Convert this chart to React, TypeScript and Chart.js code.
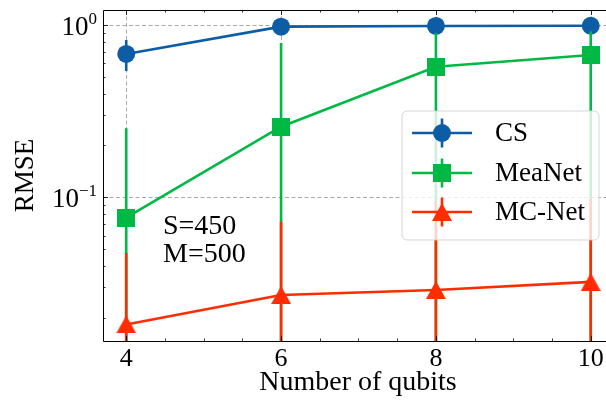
import React, { useEffect, useRef } from "react";
import { Chart, registerables } from "chart.js";

Chart.register(...registerables);

const qubits = [4, 6, 8, 10];
const seriesNames = ["CS", "MeaNet", "MC-Net"];
const csRmse = [0.679, 0.978, 0.987, 0.99];
const csUpper = [0.818, 1.0, 1.005, 1.01];
const csLower = [0.541, 0.955, 0.97, 0.975];
const meaRmse = [0.0762, 0.257, 0.573, 0.67];
const meaUpper = [0.252, 0.787, 0.9, 0.92];
const meaLower = [0.001, 0.001, 0.001, 0.001];
const mcRmse = [0.0183, 0.0271, 0.029, 0.0323];
const mcUpper = [0.0475, 0.0721, 0.095, 0.098];
const mcLower = [0.001, 0.001, 0.001, 0.001];
const colors = ["#0C5DA5", "#00B945", "#FF2C00"];
const xMajorTicks = [4, 6, 8, 10];
const yMajorTicks = [1, 0.1];
const yTickExponents = ["0", "\u22121"];
const annotationLines = ["S=450", "M=500"];
const xTitle = "Number of qubits";
const yTitle = "RMSE";

const FONT = '"Liberation Serif", "DejaVu Serif", serif';
const LW = 2.6;

function makeSquare(color: string, side: number) {
  const c = document.createElement("canvas");
  c.width = side;
  c.height = side;
  const g = c.getContext("2d")!;
  g.fillStyle = color;
  g.fillRect(0, 0, side, side);
  return c;
}
function makeTriangle(color: string, w: number, h: number) {
  const c = document.createElement("canvas");
  c.width = w;
  c.height = h;
  const g = c.getContext("2d")!;
  g.fillStyle = color;
  g.beginPath();
  g.moveTo(w / 2, 0);
  g.lineTo(w, h);
  g.lineTo(0, h);
  g.closePath();
  g.fill();
  return c;
}

export default function App() {
  const ref = useRef<HTMLCanvasElement | null>(null);
  useEffect(() => {
    const canvas = ref.current!;
    const square = makeSquare(colors[1], 18);
    const tri = makeTriangle(colors[2], 20, 18);
    const uppers = [csUpper, meaUpper, mcUpper];
    const lowers = [csLower, meaLower, mcLower];

    const plugin = {
      id: "custom",
      beforeDatasetsDraw(chart: any) {
        const { ctx, chartArea: a, scales } = chart;
        ctx.save();
        ctx.strokeStyle = "#aaaaaa";
        ctx.lineWidth = 1;
        ctx.setLineDash([4, 2.5]);
        for (const v of xMajorTicks) {
          const x = Math.round(scales.x.getPixelForValue(v)) + 0.5;
          ctx.beginPath();
          ctx.moveTo(x, a.top);
          ctx.lineTo(x, a.bottom);
          ctx.stroke();
        }
        for (const v of yMajorTicks) {
          const y = Math.round(scales.y.getPixelForValue(v)) + 0.5;
          ctx.beginPath();
          ctx.moveTo(a.left, y);
          ctx.lineTo(a.right, y);
          ctx.stroke();
        }
        ctx.restore();
      },
      beforeDatasetDraw(chart: any, args: any) {
        const { ctx, chartArea: a, scales } = chart;
        const i = args.index;
        ctx.save();
        ctx.beginPath();
        ctx.rect(a.left, a.top, a.right - a.left, a.bottom - a.top);
        ctx.clip();
        ctx.strokeStyle = colors[i];
        ctx.lineWidth = LW;
        for (let k = 0; k < qubits.length; k++) {
          const x = scales.x.getPixelForValue(qubits[k]);
          const y1 = scales.y.getPixelForValue(uppers[i][k]);
          const y2 = scales.y.getPixelForValue(lowers[i][k]);
          ctx.beginPath();
          ctx.moveTo(x, y1);
          ctx.lineTo(x, y2);
          ctx.stroke();
        }
        ctx.restore();
      },
      afterDatasetsDraw(chart: any) {
        const { ctx, chartArea: a, scales } = chart;
        ctx.save();
        // spines
        ctx.strokeStyle = "#000";
        ctx.lineWidth = 1;
        ctx.beginPath();
        ctx.moveTo(a.right + 0.5, a.top + 0.5);
        ctx.lineTo(a.left + 0.5, a.top + 0.5);
        ctx.lineTo(a.left + 0.5, a.bottom + 0.5);
        ctx.lineTo(a.right + 0.5, a.bottom + 0.5);
        ctx.lineTo(a.right + 0.5, a.top + 0.5);
        ctx.stroke();
        // x ticks
        ctx.lineWidth = 0.8;
        for (let v = 3.5; v <= 10.5; v += 0.5) {
          if (v < scales.x.min || v > scales.x.max) continue;
          const major = xMajorTicks.includes(v);
          const len = major ? 5 : 2.5;
          const x = Math.round(scales.x.getPixelForValue(v)) + 0.5;
          ctx.beginPath();
          ctx.moveTo(x, a.bottom);
          ctx.lineTo(x, a.bottom - len);
          ctx.moveTo(x, a.top);
          ctx.lineTo(x, a.top + len);
          ctx.stroke();
        }
        // y ticks
        for (const dec of [0.01, 0.1, 1]) {
          for (let m = 1; m <= 9; m++) {
            const v = m * dec;
            if (v < scales.y.min || v > scales.y.max) continue;
            const len = m === 1 ? 5 : 2.5;
            const y = Math.round(scales.y.getPixelForValue(v)) + 0.5;
            ctx.beginPath();
            ctx.moveTo(a.left, y);
            ctx.lineTo(a.left + len, y);
            ctx.stroke();
          }
        }
        // x tick labels
        ctx.fillStyle = "#000";
        ctx.font = `26px ${FONT}`;
        ctx.textAlign = "center";
        ctx.textBaseline = "alphabetic";
        for (const v of xMajorTicks) {
          ctx.fillText(String(v), scales.x.getPixelForValue(v), 366);
        }
        // y tick labels
        for (let k = 0; k < yMajorTicks.length; k++) {
          const y = scales.y.getPixelForValue(yMajorTicks[k]);
          ctx.font = `17px ${FONT}`;
          ctx.textAlign = "right";
          const ew = ctx.measureText(yTickExponents[k]).width;
          const right = a.left - 6;
          ctx.fillText(yTickExponents[k], right, y - 1);
          ctx.font = `27px ${FONT}`;
          ctx.fillText("10", right - ew, y + 10);
        }
        // axis titles
        ctx.font = `28px ${FONT}`;
        ctx.textAlign = "center";
        ctx.fillText(xTitle, 358, 390);
        ctx.save();
        ctx.translate(33, (a.top + a.bottom) / 2);
        ctx.rotate(-Math.PI / 2);
        ctx.font = `27px ${FONT}`;
        ctx.fillText(yTitle, 0, 0);
        ctx.restore();
        // annotation
        ctx.font = `28px ${FONT}`;
        ctx.textAlign = "left";
        const ax = scales.x.getPixelForValue(4.475);
        ctx.fillText(annotationLines[0], ax, a.top + 0.677 * (a.bottom - a.top));
        ctx.fillText(annotationLines[1], ax, a.top + 0.76 * (a.bottom - a.top));

        // legend
        const lx = 402, ly = 111, lw = 197, lh = 129, r = 5;
        ctx.beginPath();
        ctx.moveTo(lx + r, ly);
        ctx.arcTo(lx + lw, ly, lx + lw, ly + lh, r);
        ctx.arcTo(lx + lw, ly + lh, lx, ly + lh, r);
        ctx.arcTo(lx, ly + lh, lx, ly, r);
        ctx.arcTo(lx, ly, lx + lw, ly, r);
        ctx.closePath();
        ctx.fillStyle = "rgba(255,255,255,0.8)";
        ctx.fill();
        ctx.strokeStyle = "rgba(204,204,204,0.8)";
        ctx.lineWidth = 1;
        ctx.stroke();
        const rows = [133, 173, 212];
        for (let i = 0; i < 3; i++) {
          const y = rows[i];
          ctx.strokeStyle = colors[i];
          ctx.lineWidth = LW;
          ctx.beginPath();
          ctx.moveTo(412, y);
          ctx.lineTo(472, y);
          ctx.moveTo(442, y - 14.5);
          ctx.lineTo(442, y + 14.5);
          ctx.stroke();
          ctx.fillStyle = colors[i];
          if (i === 0) {
            ctx.beginPath();
            ctx.arc(442, y, 9, 0, Math.PI * 2);
            ctx.fill();
          } else if (i === 1) {
            ctx.drawImage(square, 442 - 9, y - 9);
          } else {
            ctx.drawImage(tri, 442 - 10, y - 9);
          }
          ctx.fillStyle = "#000";
          ctx.font = `27px ${FONT}`;
          ctx.textAlign = "left";
          ctx.textBaseline = "middle";
          ctx.fillText(seriesNames[i], 495, y + 1);
        }
        ctx.restore();
      },
    };

    const chart = new Chart(canvas, {
      type: "line",
      data: {
        datasets: [
          {
            label: seriesNames[0],
            data: qubits.map((x, k) => ({ x, y: csRmse[k] })),
            borderColor: colors[0],
            backgroundColor: colors[0],
            borderWidth: LW,
            pointStyle: "circle",
            pointRadius: 9,
            pointBorderWidth: 0,
            order: 2,
          },
          {
            label: seriesNames[1],
            data: qubits.map((x, k) => ({ x, y: meaRmse[k] })),
            borderColor: colors[1],
            backgroundColor: colors[1],
            borderWidth: LW,
            pointStyle: square as any,
            pointRadius: 9,
            order: 1,
          },
          {
            label: seriesNames[2],
            data: qubits.map((x, k) => ({ x, y: mcRmse[k] })),
            borderColor: colors[2],
            backgroundColor: colors[2],
            borderWidth: LW,
            pointStyle: tri as any,
            pointRadius: 9,
            order: 0,
          },
        ],
      },
      options: {
        responsive: false,
        animation: false,
        layout: { autoPadding: false, padding: { top: 10, right: 0, left: 0, bottom: 0 } },
        plugins: { legend: { display: false }, tooltip: { enabled: false } },
        scales: {
          x: {
            type: "linear",
            min: 3.7,
            max: 10.197,
            grid: { display: false },
            border: { display: false },
            ticks: { display: false },
            afterFit: (s: any) => {
              s.height = 60;
            },
          },
          y: {
            type: "logarithmic",
            min: 0.01466,
            max: 1.222,
            grid: { display: false },
            border: { display: false },
            ticks: { display: false },
            afterFit: (s: any) => {
              s.width = 103;
            },
          },
        },
      },
      plugins: [plugin],
    } as any);
    return () => chart.destroy();
  }, []);

  return (
    <div
      style={{
        position: "fixed",
        left: 0,
        top: 0,
        width: 606,
        height: 401,
        overflow: "hidden",
        background: "#fff",
      }}
    >
      <canvas ref={ref} width={606} height={401} style={{ display: "block" }} />
    </div>
  );
}
